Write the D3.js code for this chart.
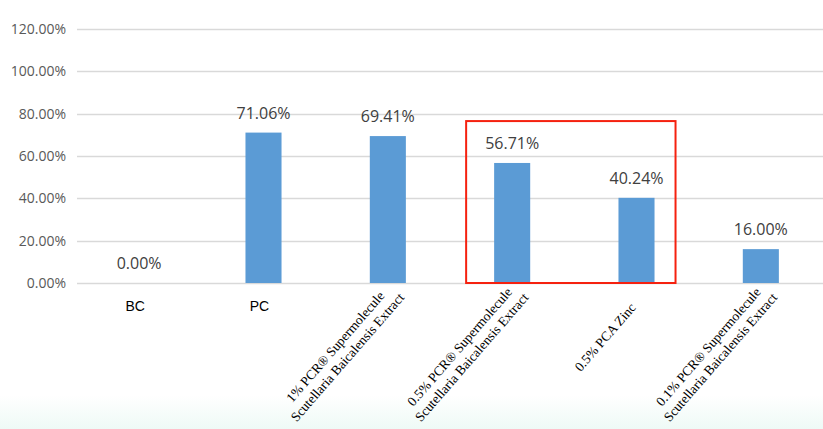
<!DOCTYPE html>
<html>
<head>
<meta charset="utf-8">
<script src="https://cdn.jsdelivr.net/npm/d3@7/dist/d3.min.js"></script>
<style>
  html, body { margin: 0; padding: 0; background: #ffffff; }
  svg { display: block; }
</style>
</head>
<body>
<svg id="chart" width="823" height="429"></svg>
<script>
// ---- data ----
const categories = ["BC", "PC", "1% PCR Supermolecule", "0.5% PCR Supermolecule", "0.5% PCA Zinc", "0.1% PCR Supermolecule"];
const categoryLabels = [
  ["BC"],
  ["PC"],
  ["1% PCR\u00AE Supermolecule", "Scutellaria Baicalensis Extract"],
  ["0.5% PCR\u00AE Supermolecule", "Scutellaria Baicalensis Extract"],
  ["0.5% PCA Zinc"],
  ["0.1% PCR\u00AE Supermolecule", "Scutellaria Baicalensis Extract"]
];
const values = [0.0000, 0.7106, 0.6941, 0.5671, 0.4024, 0.1600];
const yTicks = [0, 0.2, 0.4, 0.6, 0.8, 1.0, 1.2];
const highlighted = ["0.5% PCR Supermolecule", "0.5% PCA Zinc"];
const highlightTop = 0.765;

(function () {
// ---- layout ----
const W = 823, H = 429;
const pLeft = 77, pRight = 823, pTop = 29, pBottom = 283;
const svg = d3.select("#chart");

// background tint at bottom
const defs = svg.append("defs");
const grad = defs.append("linearGradient").attr("id", "bgGrad").attr("x1", 0).attr("y1", 0).attr("x2", 0).attr("y2", 1);
grad.append("stop").attr("offset", "0%").attr("stop-color", "#ffffff");
grad.append("stop").attr("offset", "100%").attr("stop-color", "#eefaf6");
svg.append("rect").attr("x", 0).attr("y", 0).attr("width", W).attr("height", H).attr("fill", "#ffffff");
svg.append("rect").attr("x", 0).attr("y", 395).attr("width", W).attr("height", H - 395).attr("fill", "url(#bgGrad)");

const x = d3.scaleBand().domain(categories).range([pLeft, pRight]).paddingInner(0.71).paddingOuter(0.355);
const y = d3.scaleLinear().domain([0, 1.2]).range([pBottom, pTop]);
const fmt = d3.format(".2%");

// grid
svg.append("g").selectAll("line").data(yTicks).join("line")
  .attr("x1", pLeft).attr("x2", pRight)
  .attr("y1", d => Math.round(y(d)) + 0.5).attr("y2", d => Math.round(y(d)) + 0.5)
  .attr("stroke", "#d9d9d9").attr("stroke-width", 1.3);

// y axis tick labels
const yAxis = d3.axisLeft(y).tickValues(yTicks).tickFormat(fmt).tickSize(0).tickPadding(0);
const gy = svg.append("g").attr("transform", `translate(${66},0)`).call(yAxis);
gy.select(".domain").remove();
gy.selectAll("text")
  .attr("font-family", "'Open Sans', sans-serif").attr("font-size", 14).attr("fill", "#595959");

// bars
svg.append("g").selectAll("rect").data(values).join("rect")
  .attr("x", (d, i) => x(categories[i]))
  .attr("width", x.bandwidth())
  .attr("y", d => y(d))
  .attr("height", d => y(0) - y(d))
  .attr("fill", "#5b9bd5");

// data labels
svg.append("g").selectAll("text").data(values).join("text")
  .attr("x", (d, i) => x(categories[i]) + x.bandwidth() / 2)
  .attr("y", d => y(d) - 14)
  .attr("text-anchor", "middle")
  .attr("font-family", "'Open Sans', sans-serif").attr("font-size", 16).attr("fill", "#404040")
  .text(d => fmt(d));

// category labels
const lab = svg.append("g");
categoryLabels.forEach((lines, i) => {
  const cx = x(categories[i]) + x.bandwidth() / 2;
  const rotated = lines.length > 1 || lines[0].length > 5;
  if (!rotated) {
    lab.append("text").attr("x", cx - 4).attr("y", 311)
      .attr("text-anchor", "middle")
      .attr("font-family", "'Liberation Sans', Arial, sans-serif").attr("font-size", 14).attr("fill", "#000")
      .text(lines[0]);
  } else {
    const ox = lines.length > 1 ? cx + 5 : cx;
    const oy = lines.length > 1 ? 287.5 : 308;
    const g = lab.append("g").attr("transform", `translate(${ox},${oy}) rotate(-49)`);
    const ts = lines.map((t, k) => g.append("text")
      .attr("y", k * 16)
      .attr("text-anchor", "middle")
      .attr("font-family", "'Liberation Serif', 'Times New Roman', serif").attr("font-size", 13.5).attr("fill", "#000")
      .text(t));
    const maxW = d3.max(ts, t => t.node().getComputedTextLength());
    ts.forEach(t => t.attr("x", -maxW / 2));
  }
});

// highlight box
const hx0 = x(highlighted[0]) - 28;
const hx1 = x(highlighted[1]) + x.bandwidth() + 21;
svg.append("rect")
  .attr("x", hx0).attr("y", y(highlightTop))
  .attr("width", hx1 - hx0).attr("height", y(0) - y(highlightTop))
  .attr("fill", "none").attr("stroke", "#f5210f").attr("stroke-width", 2);
})();
</script>
</body>
</html>
